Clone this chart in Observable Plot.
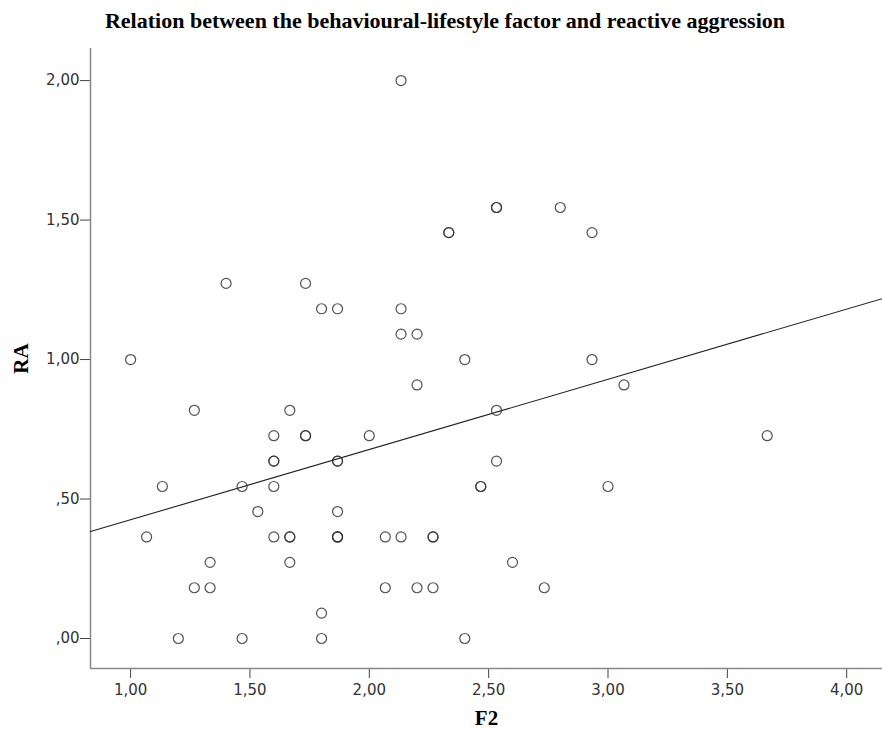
<!DOCTYPE html>
<html><head><meta charset="utf-8">
<script src="https://cdn.jsdelivr.net/npm/d3@7"></script>
<script src="https://cdn.jsdelivr.net/npm/@observablehq/plot@0.6"></script>
<style>
body{margin:0;background:#fff;}
#title{font:bold 22px "Liberation Serif",serif;line-height:42px;height:40px;color:#000;text-align:center;width:882px;padding-left:8px;box-sizing:border-box;white-space:nowrap;overflow:visible;}
svg g[aria-label="x-axis label"] text, svg g[aria-label="y-axis label"] text{font:bold 21px "Liberation Serif",serif;fill:#000;}
</style></head><body>
<div id="title">Relation between the behavioural-lifestyle factor and reactive aggression</div>
<div id="chart"></div>
<script>
const titleText = "Relation between the behavioural-lifestyle factor and reactive aggression";
const xLabel = "F2";
const yLabel = "RA";
const f2 = [1.000,1.067,1.133,1.200,1.267,1.267,1.333,1.333,1.400,1.467,1.467,1.533,1.600,1.600,1.600,1.600,1.600,1.667,1.667,1.667,1.667,1.733,1.733,1.733,1.800,1.800,1.800,1.867,1.867,1.867,1.867,1.867,1.867,1.867,2.000,2.067,2.067,2.133,2.133,2.133,2.133,2.200,2.200,2.200,2.267,2.267,2.267,2.333,2.333,2.400,2.400,2.467,2.467,2.533,2.533,2.533,2.533,2.600,2.733,2.800,2.933,2.933,3.000,3.067,3.667];
const ra = [1.000,0.364,0.545,0.000,0.818,0.182,0.273,0.182,1.273,0.545,0.000,0.455,0.727,0.636,0.636,0.545,0.364,0.818,0.364,0.364,0.273,1.273,0.727,0.727,1.182,0.091,0.000,1.182,0.636,0.636,0.455,0.364,0.364,0.364,0.727,0.364,0.182,2.000,1.182,1.091,0.364,1.091,0.909,0.182,0.364,0.364,0.182,1.455,1.455,1.000,0.000,0.545,0.545,1.545,1.545,0.818,0.636,0.273,0.182,1.545,1.455,1.000,0.545,0.909,0.727];
const fitF2 = [0.832, 4.15];
const fitRA = [0.3835, 1.2186];
const xDomain = [0.832, 4.15];
const yDomain = [-0.1075, 2.115];
const xTicks = [1, 1.5, 2, 2.5, 3, 3.5, 4];
const yTicks = [0, 0.5, 1, 1.5, 2];

const points = f2.map((x, i) => ({x, y: ra[i]}));
const fit = fitF2.map((x, i) => ({x, y: fitRA[i]}));
const fmt = d => { let s = d3.format(".2f")(d).replace(".", ","); return s.startsWith("0,") ? s.slice(1) : s; };

const chart = Plot.plot({
  width: 882, height: 691,
  marginLeft: 90, marginRight: 0, marginTop: 8, marginBottom: 63,
  style: {fontFamily: "'DejaVu Sans', sans-serif", fontSize: "15px", color: "#333", background: "#fff"},
  x: {domain: xDomain, ticks: xTicks, tickFormat: fmt, label: xLabel},
  y: {domain: yDomain, ticks: yTicks, tickFormat: fmt, label: yLabel},
  marks: [
    Plot.axisX({ticks: xTicks, tickFormat: fmt, tickSize: 10, tickPadding: 6, stroke: "#444", label: xLabel, labelAnchor: "center", labelOffset: 56, labelArrow: "none"}),
    Plot.axisY({ticks: yTicks, tickFormat: fmt, tickSize: 10, tickPadding: 1, stroke: "#444", label: yLabel, labelAnchor: "center", labelOffset: 77, labelArrow: "none"}),
    Plot.ruleX([xDomain[0]], {stroke: "#888", strokeWidth: 1.5}),
    Plot.ruleY([yDomain[0]], {stroke: "#888", strokeWidth: 1.5}),
    Plot.line(fit, {x: "x", y: "y", stroke: "#222", strokeWidth: 1.1}),
    Plot.dot(points, {x: "x", y: "y", r: 5, stroke: "#333", strokeWidth: 1.2, fill: "none", strokeOpacity: 0.85})
  ]
});
document.getElementById("chart").appendChild(chart);
</script>
</body></html>
